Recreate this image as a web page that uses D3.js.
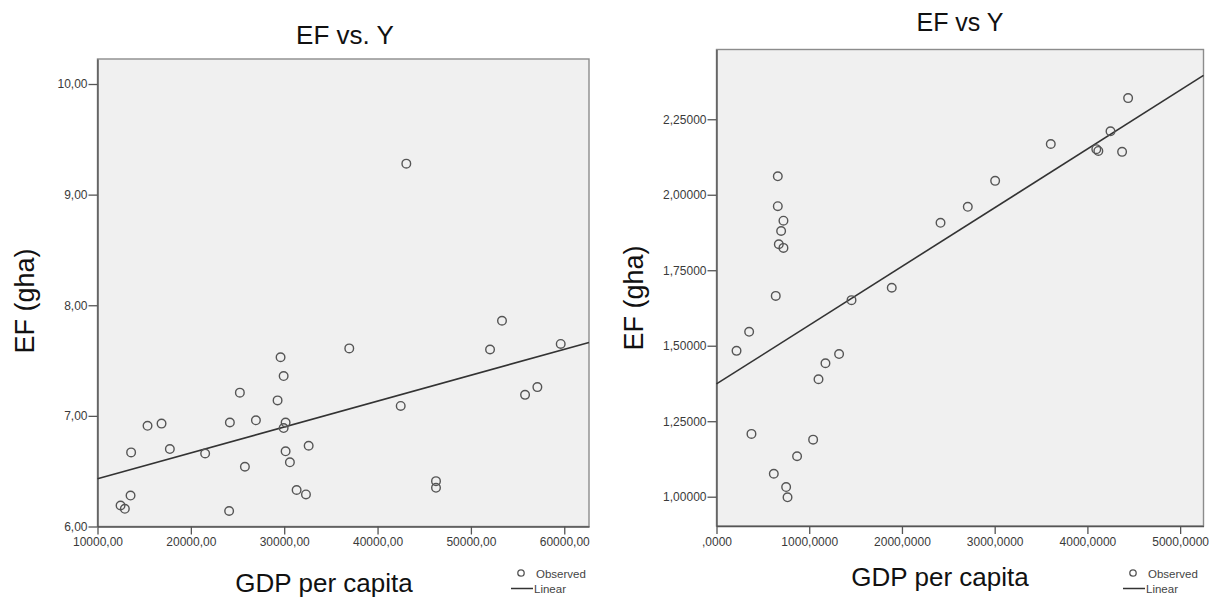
<!DOCTYPE html>
<html>
<head>
<meta charset="utf-8">
<script src="https://cdnjs.cloudflare.com/ajax/libs/d3/7.8.5/d3.min.js"></script>
<style>
  body { margin: 0; background: #fff; }
  svg { display: block; font-family: Arial, "Liberation Sans", sans-serif; }
</style>
</head>
<body>
<svg width="1214" height="599"></svg>
<script>

// LEFT PANEL DATA (EF vs. Y)
var gdpLeft = [12470, 12930, 13540, 13600, 15360, 16860, 17750, 21530, 24100, 24180,
               25250, 25790, 26970, 29290, 29610, 29940, 30150, 29940, 30150, 30610,
               31330, 32330, 32620, 36970, 42480, 43080, 46260, 46260, 52050, 53330,
               55800, 57120, 59620];
var efLeft  = [6.19, 6.16, 6.28, 6.67, 6.91, 6.93, 6.70, 6.66, 6.14, 6.94,
               7.21, 6.54, 6.96, 7.14, 7.53, 7.36, 6.94, 6.89, 6.68, 6.58,
               6.33, 6.29, 6.73, 7.61, 7.09, 9.28, 6.41, 6.35, 7.60, 7.86,
               7.19, 7.26, 7.65];
var leftXTicks = [10000, 20000, 30000, 40000, 50000, 60000];
var leftYTicks = [6, 7, 8, 9, 10];

// RIGHT PANEL DATA (EF vs Y)
var gdpRight = [661, 661, 722, 697, 672, 722, 639, 352, 216, 1456,
                1890, 1322, 1175, 1100, 377, 1042, 869, 618, 751, 766,
                2416, 2710, 3005, 3605, 4096, 4118, 4249, 4374, 4439];
var efRight  = [2.061, 1.962, 1.914, 1.880, 1.836, 1.824, 1.665, 1.546, 1.483, 1.651,
                1.692, 1.4725, 1.442, 1.389, 1.208, 1.189, 1.134, 1.076, 1.032, 0.998,
                1.907, 1.960, 2.046, 2.168, 2.151, 2.145, 2.210, 2.142, 2.320];
var rightXTicks = [0, 1000, 2000, 3000, 4000, 5000];
var rightYTicks = [1.0, 1.25, 1.5, 1.75, 2.0, 2.25];

var legendLabels = ['Observed', 'Linear'];

var svg = d3.select('svg');

drawPanel({
    title: 'EF vs. Y', titleX: 345, titleY: 44, titleSize: 26,
    xs: gdpLeft, ys: efLeft,
    xDomain: [10000, 62650], xRange: [97.5, 589],
    yDomain: [6, 10.226], yRange: [526.5, 59],
    xTicks: leftXTicks, yTicks: leftYTicks, xDec: 2, yDec: 2,
    yLabelX: 25, yLabelY: 301, xLabelX: 324, xLabelY: 592,
    legendX: 511
});

drawPanel({
    title: 'EF vs Y', titleX: 960, titleY: 31, titleSize: 25,
    xs: gdpRight, ys: efRight,
    xDomain: [0, 5252], xRange: [716.5, 1203.5],
    yDomain: [0.903, 2.481], yRange: [526, 49.5],
    xTicks: rightXTicks, yTicks: rightYTicks, xDec: 4, yDec: 5,
    yLabelX: 634, yLabelY: 298, xLabelX: 940, xLabelY: 586,
    legendX: 1123
});

// spss style number: comma decimal, no leading zero for 0
function spssFormat(dec) {
    var f = d3.format('.' + dec + 'f');
    return function(d) {
        var s = f(d).replace('.', ',');
        if (s.indexOf('0,') == 0) s = s.slice(1);
        return s;
    };
}

function linearFit(xs, ys) {
    var mx = d3.mean(xs), my = d3.mean(ys);
    var sxy = 0, sxx = 0;
    for (var i = 0; i < xs.length; i++) {
        sxy += (xs[i] - mx) * (ys[i] - my);
        sxx += (xs[i] - mx) * (xs[i] - mx);
    }
    var b = sxy / sxx;
    return { a: my - b * mx, b: b };
}

function drawPanel(p) {

    var x = d3.scaleLinear().domain(p.xDomain).range(p.xRange);
    var y = d3.scaleLinear().domain(p.yDomain).range(p.yRange);

    var g = svg.append('g');

    // plot background + frame
    g.append('rect')
        .attr('x', p.xRange[0]).attr('y', p.yRange[1])
        .attr('width', p.xRange[1] - p.xRange[0])
        .attr('height', p.yRange[0] - p.yRange[1])
        .style('fill', '#f0f0f0')
        .style('stroke', '#8c8c8c')
        .style('stroke-width', 1.4);

    // AXES
    var xAxis = g.append('g')
        .attr('transform', 'translate(0,' + p.yRange[0] + ')')
        .call(d3.axisBottom(x).tickValues(p.xTicks).tickFormat(spssFormat(p.xDec))
            .tickSize(8).tickSizeOuter(0).tickPadding(3));

    var yAxis = g.append('g')
        .attr('transform', 'translate(' + p.xRange[0] + ',0)')
        .call(d3.axisLeft(y).tickValues(p.yTicks).tickFormat(spssFormat(p.yDec))
            .tickSize(9).tickSizeOuter(0).tickPadding(1));

    [xAxis, yAxis].forEach(function(ax) {
        ax.select('.domain').style('stroke', '#555').style('stroke-width', 1.4);
        ax.selectAll('.tick line').style('stroke', '#555').style('stroke-width', 1.3);
        ax.selectAll('.tick text')
            .style('font-family', 'Arial, "Liberation Sans", sans-serif')
            .style('font-size', '12px')
            .style('fill', '#3a3a3a');
    });

    // FIT LINE
    var fit = linearFit(p.xs, p.ys);
    var line = d3.line()
        .x(function(d) { return x(d); })
        .y(function(d) { return y(fit.a + fit.b * d); });

    g.append('path')
        .datum(p.xDomain)
        .attr('d', line)
        .style('fill', 'none')
        .style('stroke', '#333')
        .style('stroke-width', 1.6);

    // POINTS
    g.selectAll('circle.obs')
        .data(p.xs)
        .enter()
        .append('circle')
        .attr('class', 'obs')
        .attr('cx', function(d) { return x(d); })
        .attr('cy', function(d, i) { return y(p.ys[i]); })
        .attr('r', 4.3)
        .style('fill', 'none')
        .style('stroke', '#555')
        .style('stroke-width', 1.4);

    // TEXT
    g.append('text')
        .text(p.title)
        .attr('x', p.titleX).attr('y', p.titleY)
        .style('text-anchor', 'middle')
        .style('font-size', p.titleSize + 'px')
        .style('fill', '#111');

    g.append('text')
        .text('EF (gha)')
        .attr('transform', 'translate(' + p.yLabelX + ',' + p.yLabelY + ') rotate(-90)')
        .attr('dy', '0.35em')
        .style('text-anchor', 'middle')
        .style('font-size', '27px')
        .style('fill', '#111');

    g.append('text')
        .text('GDP per capita')
        .attr('x', p.xLabelX).attr('y', p.xLabelY)
        .style('text-anchor', 'middle')
        .style('font-size', '26px')
        .style('fill', '#111');

    // LEGEND
    var lg = g.append('g').attr('transform', 'translate(' + p.legendX + ',0)');

    lg.append('circle')
        .attr('cx', 10).attr('cy', 573)
        .attr('r', 3.2)
        .style('fill', 'none')
        .style('stroke', '#555')
        .style('stroke-width', 1.3);

    lg.append('line')
        .attr('x1', 0).attr('x2', 22)
        .attr('y1', 588.5).attr('y2', 588.5)
        .style('stroke', '#333')
        .style('stroke-width', 1.5);

    lg.selectAll('text.leg')
        .data(legendLabels)
        .enter()
        .append('text')
        .attr('class', 'leg')
        .text(function(d) { return d; })
        .attr('x', function(d, i) { return i == 0 ? 25 : 23; })
        .attr('y', function(d, i) { return i == 0 ? 578 : 593; })
        .style('font-size', '11.5px')
        .style('fill', '#444');
}

</script>
</body>
</html>
